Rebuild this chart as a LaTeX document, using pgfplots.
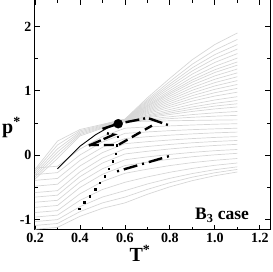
\documentclass[border=0pt]{standalone}
\usepackage{pgfplots}
\pgfplotsset{compat=1.18}
\usepackage{fontspec}
\setmainfont{Liberation Serif}
\begin{document}
\begin{tikzpicture}
\begin{axis}[
  scale only axis, width=235pt, height=230pt,
  xmin=0.2, xmax=1.245, ymin=-1.155, ymax=2.418,
  xtick={0.2,0.4,...,1.2}, ytick={-1,0,1,2},
  minor x tick num=1, minor y tick num=1,
  major tick length=5pt, minor tick length=3pt,
  tick align=inside, tick style={black, line width=0.9pt},
  axis line style={line width=1pt},
  /pgf/number format/assume math mode=true,
  ticklabel style={font=\fontsize{14}{14}\selectfont\bfseries},
  xticklabel style={/pgf/number format/.cd, fixed, fixed zerofill, precision=1},
  yticklabel style={/pgf/number format/.cd, fixed, precision=0},
  xlabel={T\textsuperscript{*}}, ylabel={p\textsuperscript{*}},
  label style={font=\fontsize{20}{20}\selectfont\bfseries},
  xlabel style={at={(axis description cs:0.447,0)}, anchor=north, inner sep=0pt, yshift=-15pt},
  ylabel style={at={(axis description cs:-0.1405,0.443)}, rotate=-90, anchor=west, inner sep=0pt},
  clip=true,
  gl/.style={black!16, line width=0.7pt},
]
% upper family
\addplot[gl] coordinates {(0.2,-0.22)(0.3,0.22)(0.4,0.40)(0.5,0.480)(0.6,0.561)(0.7,0.893)(0.8,1.196)(0.9,1.486)(1.0,1.721)(1.1,1.90)};
\addplot[gl] coordinates {(0.5,0.477)(0.6,0.558)(0.7,0.866)(0.8,1.147)(0.9,1.416)(1.0,1.634)(1.1,1.80)};
\addplot[gl] coordinates {(0.5,0.474)(0.6,0.556)(0.7,0.844)(0.8,1.108)(0.9,1.36)(1.0,1.564)(1.1,1.72)};
\addplot[gl] coordinates {(0.5,0.471)(0.6,0.554)(0.7,0.825)(0.8,1.074)(0.9,1.311)(1.0,1.503)(1.1,1.65)};
\addplot[gl] coordinates {(0.2,-0.25)(0.3,0.16)(0.4,0.38)(0.5,0.468)(0.6,0.552)(0.7,0.806)(0.8,1.039)(0.9,1.262)(1.0,1.442)(1.1,1.58)};
\addplot[gl] coordinates {(0.5,0.465)(0.6,0.550)(0.7,0.787)(0.8,1.005)(0.9,1.213)(1.0,1.381)(1.1,1.51)};
\addplot[gl] coordinates {(0.5,0.462)(0.6,0.548)(0.7,0.771)(0.8,0.976)(0.9,1.171)(1.0,1.329)(1.1,1.45)};
\addplot[gl] coordinates {(0.5,0.459)(0.6,0.546)(0.7,0.758)(0.8,0.951)(0.9,1.136)(1.0,1.286)(1.1,1.40)};
\addplot[gl] coordinates {(0.2,-0.28)(0.3,0.10)(0.4,0.36)(0.5,0.456)(0.6,0.545)(0.7,0.741)(0.8,0.922)(0.9,1.094)(1.0,1.233)(1.1,1.34)};
\addplot[gl] coordinates {(0.5,0.453)(0.6,0.543)(0.7,0.725)(0.8,0.892)(0.9,1.052)(1.0,1.181)(1.1,1.28)};
\addplot[gl] coordinates {(0.5,0.450)(0.6,0.541)(0.7,0.709)(0.8,0.863)(0.9,1.01)(1.0,1.129)(1.1,1.22)};
\addplot[gl] coordinates {(0.5,0.447)(0.6,0.539)(0.7,0.693)(0.8,0.834)(0.9,0.968)(1.0,1.077)(1.1,1.16)};
\addplot[gl] coordinates {(0.2,-0.31)(0.3,0.05)(0.4,0.34)(0.5,0.444)(0.6,0.537)(0.7,0.677)(0.8,0.804)(0.9,0.926)(1.0,1.025)(1.1,1.10)};
\addplot[gl] coordinates {(0.5,0.441)(0.6,0.536)(0.7,0.660)(0.8,0.775)(0.9,0.884)(1.0,0.972)(1.1,1.04)};
\addplot[gl] coordinates {(0.5,0.438)(0.6,0.534)(0.7,0.644)(0.8,0.745)(0.9,0.842)(1.0,0.920)(1.1,0.98)};
\addplot[gl] coordinates {(0.5,0.435)(0.6,0.532)(0.7,0.625)(0.8,0.711)(0.9,0.793)(1.0,0.859)(1.1,0.91)};
\addplot[gl] coordinates {(0.2,-0.34)(0.3,0.00)(0.4,0.32)(0.5,0.432)(0.6,0.530)(0.7,0.609)(0.8,0.682)(0.9,0.751)(1.0,0.807)(1.1,0.85)};
\addplot[gl] coordinates {(0.5,0.429)(0.6,0.528)(0.7,0.596)(0.8,0.657)(0.9,0.716)(1.0,0.764)(1.1,0.80)};
\addplot[gl] coordinates {(0.5,0.426)(0.6,0.527)(0.7,0.582)(0.8,0.633)(0.9,0.681)(1.0,0.720)(1.1,0.75)};
\addplot[gl] coordinates {(0.5,0.423)(0.6,0.525)(0.7,0.563)(0.8,0.598)(0.9,0.632)(1.0,0.659)(1.1,0.68)};
\addplot[gl] coordinates {(0.2,-0.37)(0.3,-0.05)(0.4,0.30)(0.5,0.420)(0.6,0.523)(0.7,0.547)(0.8,0.569)(0.9,0.590)(1.0,0.607)(1.1,0.62)};
\addplot[gl] coordinates {(0.5,0.417)(0.6,0.521)(0.7,0.528)(0.8,0.535)(0.9,0.541)(1.0,0.546)(1.1,0.55)};
% lower family
\addplot[gl] coordinates {(0.2,-0.20)(0.3,-0.17)(0.4,0.096)(0.5,0.290)(0.6,0.42)(0.7,0.440)(0.8,0.456)(0.9,0.470)(1.0,0.482)(1.1,0.49)};
\addplot[gl] coordinates {(0.2,-0.30)(0.3,-0.27)(0.4,0.005)(0.5,0.206)(0.6,0.34)(0.7,0.362)(0.8,0.382)(0.9,0.398)(1.0,0.410)(1.1,0.42)};
\addplot[gl] coordinates {(0.2,-0.39)(0.3,-0.36)(0.4,-0.081)(0.5,0.124)(0.6,0.26)(0.7,0.288)(0.8,0.312)(0.9,0.332)(1.0,0.348)(1.1,0.36)};
\addplot[gl] coordinates {(0.2,-0.48)(0.3,-0.45)(0.4,-0.166)(0.5,0.041)(0.6,0.18)(0.7,0.211)(0.8,0.237)(0.9,0.259)(1.0,0.277)(1.1,0.29)};
\addplot[gl] coordinates {(0.2,-0.58)(0.3,-0.55)(0.4,-0.258)(0.5,-0.043)(0.6,0.10)(0.7,0.136)(0.8,0.168)(0.9,0.194)(1.0,0.214)(1.1,0.23)};
\addplot[gl] coordinates {(0.2,-0.65)(0.3,-0.62)(0.4,-0.332)(0.5,-0.121)(0.6,0.02)(0.7,0.062)(0.8,0.098)(0.9,0.128)(1.0,0.152)(1.1,0.17)};
\addplot[gl] coordinates {(0.2,-0.73)(0.3,-0.70)(0.4,-0.416)(0.5,-0.209)(0.6,-0.07)(0.7,-0.025)(0.8,0.013)(0.9,0.045)(1.0,0.071)(1.1,0.09)};
\addplot[gl] coordinates {(0.2,-0.81)(0.3,-0.78)(0.4,-0.501)(0.5,-0.296)(0.6,-0.16)(0.7,-0.107)(0.8,-0.061)(0.9,-0.023)(1.0,0.007)(1.1,0.03)};
\addplot[gl] coordinates {(0.2,-0.89)(0.3,-0.86)(0.4,-0.599)(0.5,-0.408)(0.6,-0.28)(0.7,-0.216)(0.8,-0.160)(0.9,-0.114)(1.0,-0.078)(1.1,-0.05)};
\addplot[gl] coordinates {(0.2,-0.96)(0.3,-0.93)(0.4,-0.700)(0.5,-0.532)(0.6,-0.42)(0.7,-0.336)(0.8,-0.264)(0.9,-0.204)(1.0,-0.156)(1.1,-0.12)};
\addplot[gl] coordinates {(0.2,-1.03)(0.3,-1.00)(0.4,-0.798)(0.5,-0.649)(0.6,-0.55)(0.7,-0.446)(0.8,-0.358)(0.9,-0.284)(1.0,-0.224)(1.1,-0.18)};
\addplot[gl] coordinates {(0.2,-1.09)(0.3,-1.06)(0.4,-0.876)(0.5,-0.740)(0.6,-0.65)(0.7,-0.530)(0.8,-0.426)(0.9,-0.340)(1.0,-0.272)(1.1,-0.22)};
\addplot[gl] coordinates {(0.2,-1.15)(0.3,-1.12)(0.4,-0.949)(0.5,-0.824)(0.6,-0.74)(0.7,-0.606)(0.8,-0.490)(0.9,-0.394)(1.0,-0.318)(1.1,-0.26)};
% black curves
\addplot[black, line width=0.9pt] coordinates {(0.30,-0.21)(0.40,0.14)(0.47,0.32)(0.52,0.42)(0.57,0.49)};
\addplot[only marks, mark=square*, mark size=0.7pt, black] coordinates {(0.396,-0.83)(0.419,-0.73)(0.444,-0.635)(0.467,-0.53)(0.489,-0.43)(0.511,-0.325)(0.529,-0.21)(0.545,-0.09)(0.560,0.026)(0.563,0.155)(0.567,0.285)};
\addplot[black, line width=2.4pt, dash pattern=on 14pt off 4pt on 2pt off 4pt] coordinates {(0.50,0.41)(0.57,0.49)(0.70,0.58)(0.80,0.46)};
\addplot[black, line width=2.4pt, dash pattern=on 10pt off 5pt] coordinates {(0.44,0.16)(0.57,0.16)(0.72,0.46)};
\addplot[black, line width=2.4pt, dash pattern=on 13pt off 3pt] coordinates {(0.44,0.15)(0.55,0.32)(0.52,0.34)};
\addplot[black, line width=2.4pt, dash pattern=on 2pt off 5pt on 14pt off 5pt] coordinates {(0.565,-0.25)(0.80,-0.01)};
\addplot[only marks, mark=*, mark size=4.5pt, black] coordinates {(0.57,0.49)};
\node[anchor=base west, inner sep=0pt, font=\fontsize{17.5}{18}\selectfont\bfseries] at (axis cs:0.911,-0.997) {B\textsubscript{3} case};
\end{axis}
\pgfresetboundingbox
\path[use as bounding box] (-35pt,-42pt) rectangle (238pt,229.6pt);
\end{tikzpicture}
\end{document}
